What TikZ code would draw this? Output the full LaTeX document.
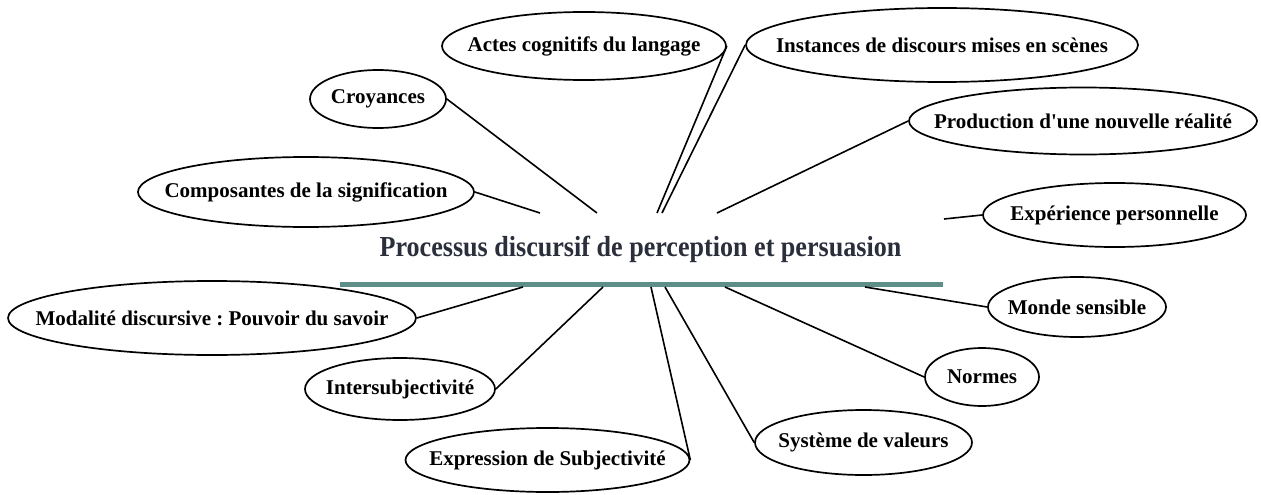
\documentclass[tikz,border=0pt]{standalone}
\usepackage{fontspec}
\setmainfont{Liberation Serif}
\newfontfamily\titlefont{Liberation Serif}[FakeStretch=0.9]
\usetikzlibrary{shapes.geometric}
\definecolor{tealline}{HTML}{5E8E88}
\definecolor{titlecol}{HTML}{2B2E3B}
\frenchspacing
\newcommand{\bubtext}[1]{\makebox[0pt]{#1}}
\tikzset{
  bubble/.style={ellipse, draw=black, line width=1.7pt, inner sep=0pt,
    font=\fontsize{21}{24}\selectfont\bfseries, text=black},
  link/.style={draw=black, line width=1.6pt},
}
\begin{document}
\begin{tikzpicture}[x=1pt,y=-1pt]
\useasboundingbox (0,0) rectangle (1261,495);
\fill[white] (0,0) rectangle (1261,495);

% central title and bar
\node[font=\titlefont\fontsize{29}{34}\selectfont\bfseries, text=titlecol, inner sep=0pt] (title) at (640.5,249) {Processus discursif de perception et persuasion};
\coordinate (barL) at (340,284.5);
\coordinate (barR) at (943,284.5);
\draw[tealline, line width=4.5pt] (barL) -- (barR);

% bubbles
\node[bubble, minimum width=284pt, minimum height=68pt] (actes) at (584,46) {\bubtext{Actes cognitifs du langage}};
\node[bubble, minimum width=392pt, minimum height=74pt] (inst) at (942,45) {\bubtext{Instances de discours mises en scènes}};
\node[bubble, minimum width=136pt, minimum height=58pt] (croy) at (378,99) {\bubtext{Croyances}};
\node[bubble, minimum width=348pt, minimum height=67pt] (prod) at (1083,121) {\bubtext{Production d\textquotesingle une nouvelle réalité}};
\node[bubble, minimum width=336pt, minimum height=70pt] (comp) at (306,192) {\bubtext{Composantes de la signification}};
\node[bubble, minimum width=263pt, minimum height=64pt] (exper) at (1114.5,215) {\bubtext{Expérience personnelle}};
\node[bubble, minimum width=408pt, minimum height=74pt] (moda) at (212,318) {\bubtext{Modalité discursive : Pouvoir du savoir}};
\node[bubble, minimum width=178pt, minimum height=60pt] (monde) at (1077,307) {\bubtext{Monde sensible}};
\node[bubble, minimum width=190pt, minimum height=62pt] (inter) at (400,389) {\bubtext{Intersubjectivité}};
\node[bubble, minimum width=114pt, minimum height=58pt] (normes) at (982,377) {\bubtext{Normes}};
\node[bubble, minimum width=217pt, minimum height=65pt] (syst) at (863.5,442.5) {\bubtext{Système de valeurs}};
\node[bubble, minimum width=284pt, minimum height=64pt] (expr) at (547.5,460) {\bubtext{Expression de Subjectivité}};

% connector ends near the title
\coordinate (eCroy) at (597,213);
\coordinate (eComp) at (540,213);
\coordinate (eActes) at (657,213);
\coordinate (eInst) at (662,213);
\coordinate (eProd) at (717,213);
\coordinate (eExper) at (944,219);
\coordinate (eModa) at (523,287);
\coordinate (eInter) at (603,287);
\coordinate (eExpr) at (651,287);
\coordinate (eSyst) at (665,287);
\coordinate (eNormes) at (725,287);
\coordinate (eMonde) at (865,287);

% connectors
\draw[link] (croy.east) -- (eCroy);
\draw[link] (comp.east) -- (eComp);
\draw[link] (actes.east) -- (eActes);
\draw[link] (inst.west) -- (eInst);
\draw[link] (prod.west) -- (eProd);
\draw[link] (exper.west) -- (eExper);
\draw[link] (moda.east) -- (eModa);
\draw[link] (inter.east) -- (eInter);
\draw[link] (expr.east) -- (eExpr);
\draw[link] (syst.west) -- (eSyst);
\draw[link] (normes.west) -- (eNormes);
\draw[link] (monde.west) -- (eMonde);
\end{tikzpicture}
\end{document}
